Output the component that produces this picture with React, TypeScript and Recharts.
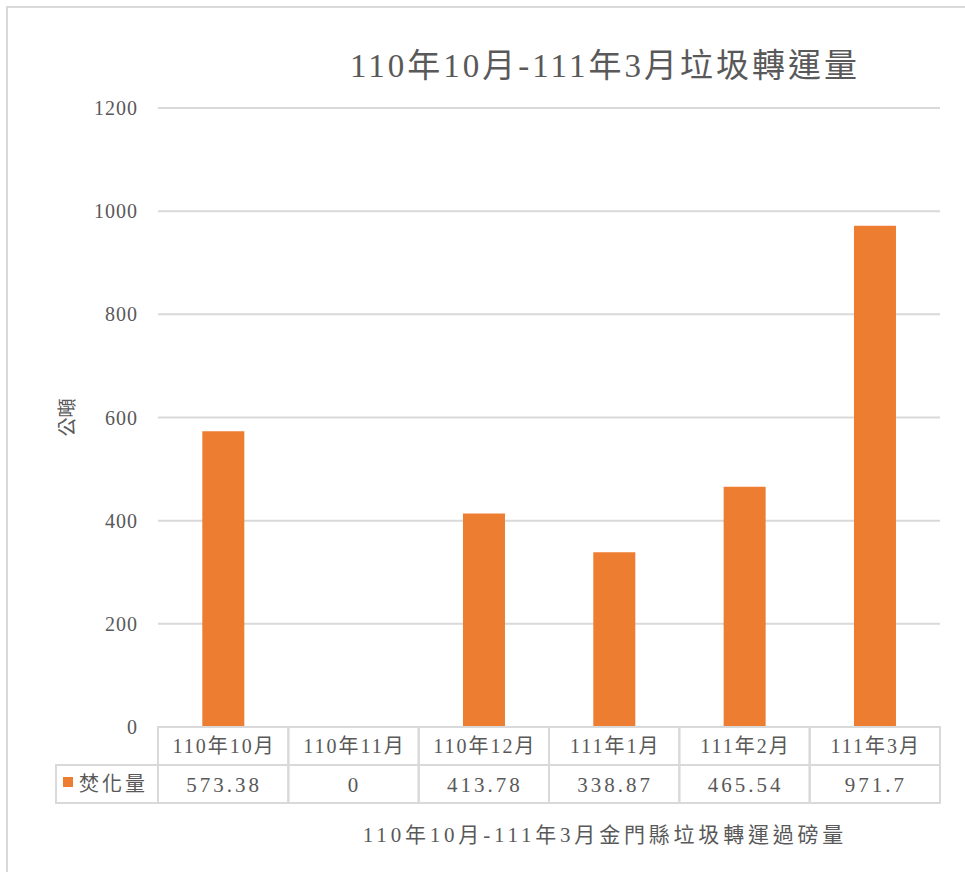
import React from "react"
import { Bar, BarChart, CartesianGrid, XAxis, YAxis } from "recharts"

document.body.style.margin = "0"

const months = ["110年10月", "110年11月", "110年12月", "111年1月", "111年2月", "111年3月"]
const burned = [573.38, 0, 413.78, 338.87, 465.54, 971.7]
const valueLabels = ["573.38", "0", "413.78", "338.87", "465.54", "971.7"]
const yTicks = [0, 200, 400, 600, 800, 1000, 1200]

const seriesName = "焚化量"
const title = "110年10月-111年3月垃圾轉運量"
const xTitle = "110年10月-111年3月金門縣垃圾轉運過磅量"
const yTitle = "公噸"

const data = months.map((m, i) => ({ month: m, value: burned[i], label: valueLabels[i] }))

const W = 965
const H = 872
const PLOT_LEFT = 158
const PLOT_RIGHT = 940
const PLOT_TOP = 108
const PLOT_BOTTOM = 727
const Y_AXIS_W = 60
const CELL_W = (PLOT_RIGHT - PLOT_LEFT) / months.length
const ROW_H = 38
const LEGEND_W = 102

const ORANGE = "#ED7D31"
const GRID = "#d9d9d9"
const TEXT = "#595959"
const FONT = '"Liberation Serif", "Noto Sans CJK TC", serif'

function TableTick(props: any) {
  const { x, y, payload, index } = props
  const d = data[index]
  const left = x - CELL_W / 2
  return (
    <g>
      <rect x={left} y={y} width={CELL_W} height={ROW_H} fill="none" stroke={GRID} strokeWidth={2} />
      <rect x={left} y={y + ROW_H} width={CELL_W} height={ROW_H} fill="none" stroke={GRID} strokeWidth={2} />
      <text x={x + 1} y={y + 26} textAnchor="middle" fontSize={20} fill={TEXT} fontFamily={FONT} letterSpacing={2}>
        {payload.value}
      </text>
      <text x={x + 1} y={y + ROW_H + 27} textAnchor="middle" fontSize={21} fill={TEXT} fontFamily={FONT} letterSpacing={3}>
        {d ? d.label : ""}
      </text>
      {index === 0 && (
        <g>
          <rect x={left - LEGEND_W} y={y + ROW_H} width={LEGEND_W} height={ROW_H} fill="none" stroke={GRID} strokeWidth={2} />
          <rect x={left - LEGEND_W + 7} y={y + ROW_H + 12} width={10} height={10} fill={ORANGE} />
          <text x={left - LEGEND_W + 23} y={y + ROW_H + 26} fontSize={20} fill={TEXT} fontFamily={FONT} letterSpacing={3}>
            {seriesName}
          </text>
        </g>
      )}
    </g>
  )
}

export default function App() {
  return (
    <div style={{ position: "relative", width: W, height: H, overflow: "hidden", background: "#fff" }}>
      <div
        style={{
          position: "absolute",
          left: 6,
          top: 6,
          width: W + 20,
          height: H + 20,
          border: `2px solid ${GRID}`,
          boxSizing: "border-box",
        }}
      />
      <div
        style={{
          position: "absolute",
          left: 0,
          width: 1210,
          top: 39,
          textAlign: "center",
          fontSize: 33,
          letterSpacing: 3,
          color: TEXT,
          fontFamily: FONT,
          whiteSpace: "nowrap",
        }}
      >
        {title}
      </div>
      <BarChart
        width={W}
        height={H}
        data={data}
        margin={{ top: PLOT_TOP, right: W - PLOT_RIGHT, left: PLOT_LEFT - Y_AXIS_W, bottom: 0 }}
        barCategoryGap="34%"
        style={{ position: "absolute", left: 0, top: 0 }}
      >
        <CartesianGrid vertical={false} stroke={GRID} strokeWidth={2} />
        <YAxis
          width={Y_AXIS_W}
          domain={[0, 1200]}
          ticks={yTicks}
          axisLine={false}
          tickLine={false}
          tickSize={0}
          tickMargin={20}
          tick={{ fontSize: 20, fill: TEXT, fontFamily: FONT, letterSpacing: 1 }}
          label={{
            value: yTitle,
            angle: -90,
            position: "insideLeft",
            dx: -36,
            style: { fontSize: 19, fill: TEXT, fontFamily: FONT, textAnchor: "middle" },
          }}
        />
        <XAxis
          dataKey="month"
          height={H - PLOT_BOTTOM}
          axisLine={false}
          tickLine={false}
          tickSize={0}
          tickMargin={0}
          interval={0}
          tick={<TableTick />}
          label={{
            value: xTitle,
            position: "insideBottom",
            offset: 30,
            dx: 56,
            style: { fontSize: 21, fill: TEXT, fontFamily: FONT, letterSpacing: 3.8 },
          }}
        />
        <Bar dataKey="value" fill={ORANGE} isAnimationActive={false} />
      </BarChart>
    </div>
  )
}
